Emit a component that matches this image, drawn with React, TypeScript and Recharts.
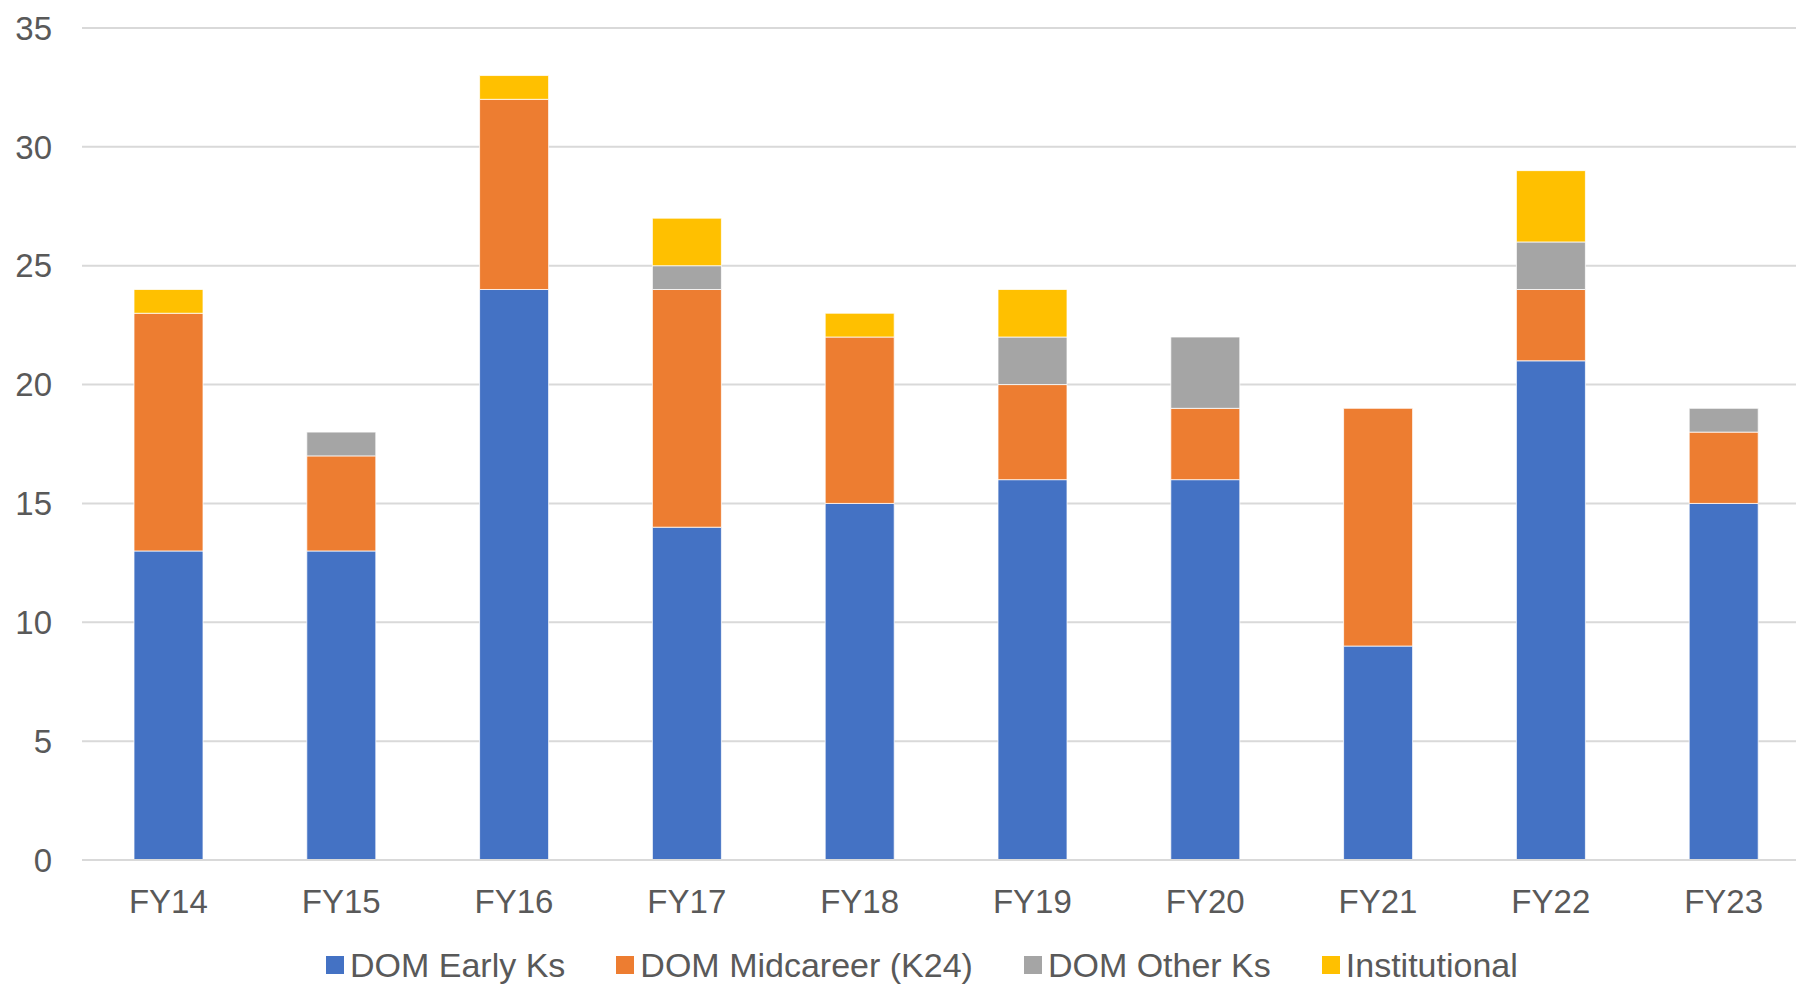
import { Bar, BarChart, CartesianGrid, Legend, XAxis, YAxis } from "recharts";

const years = ["FY14", "FY15", "FY16", "FY17", "FY18", "FY19", "FY20", "FY21", "FY22", "FY23"];
const domEarly = [13, 13, 24, 14, 15, 16, 16, 9, 21, 15];
const domMidcareer = [10, 4, 8, 10, 7, 4, 3, 10, 3, 3];
const domOther = [0, 1, 0, 1, 0, 2, 3, 0, 2, 1];
const institutional = [1, 0, 1, 2, 1, 2, 0, 0, 3, 0];
const yTicks = [0, 5, 10, 15, 20, 25, 30, 35];

const series = [
  { key: "early", name: "DOM Early Ks", color: "#4472C4" },
  { key: "mid", name: "DOM Midcareer (K24)", color: "#ED7D31" },
  { key: "other", name: "DOM Other Ks", color: "#A5A5A5" },
  { key: "inst", name: "Institutional", color: "#FFC000" },
];

const data = years.map((year, i) => ({
  year,
  early: domEarly[i],
  mid: domMidcareer[i],
  other: domOther[i],
  inst: institutional[i],
}));

const font = "'Liberation Sans', Arial, sans-serif";

function LegendRow() {
  return (
    <div style={{ display: "flex", alignItems: "center", paddingLeft: 326, paddingTop: 18, fontFamily: font, fontSize: 34, color: "#595959" }}>
      {series.map((s) => (
        <div key={s.key} style={{ display: "flex", alignItems: "center", marginRight: 51 }}>
          <span style={{ display: "inline-block", width: 18, height: 18, background: s.color, marginRight: 6 }} />
          <span style={{ lineHeight: "34px" }}>{s.name}</span>
        </div>
      ))}
    </div>
  );
}

export default function App() {
  return (
    <div style={{ position: "absolute", left: 0, top: 0, width: 1796, height: 984, overflow: "hidden", background: "#fff" }}>
      <BarChart width={1830} height={984} data={data} margin={{ top: 28, right: 20, left: 0, bottom: 0 }} barSize={69}>
        <CartesianGrid vertical={false} stroke="#D9D9D9" strokeWidth={2} />
        <XAxis
          dataKey="year"
          height={70}
          tickLine={false}
          tickSize={0}
          tickMargin={30}
          axisLine={{ stroke: "#D9D9D9", strokeWidth: 2 }}
          tick={{ fill: "#595959", fontSize: 33, fontFamily: font }}
        />
        <YAxis
          width={82}
          domain={[0, 35]}
          ticks={yTicks}
          interval={0}
          axisLine={false}
          tickLine={false}
          tickSize={0}
          tickMargin={30}
          tick={{ fill: "#595959", fontSize: 33, fontFamily: font }}
        />
        <Legend verticalAlign="bottom" height={54} wrapperStyle={{ left: 0, width: 1796 }} content={() => <LegendRow />} />
        {series.map((s) => (
          <Bar key={s.key} dataKey={s.key} name={s.name} stackId="a" fill={s.color} stroke="#ffffff" strokeWidth={0.75} isAnimationActive={false} />
        ))}
      </BarChart>
    </div>
  );
}
